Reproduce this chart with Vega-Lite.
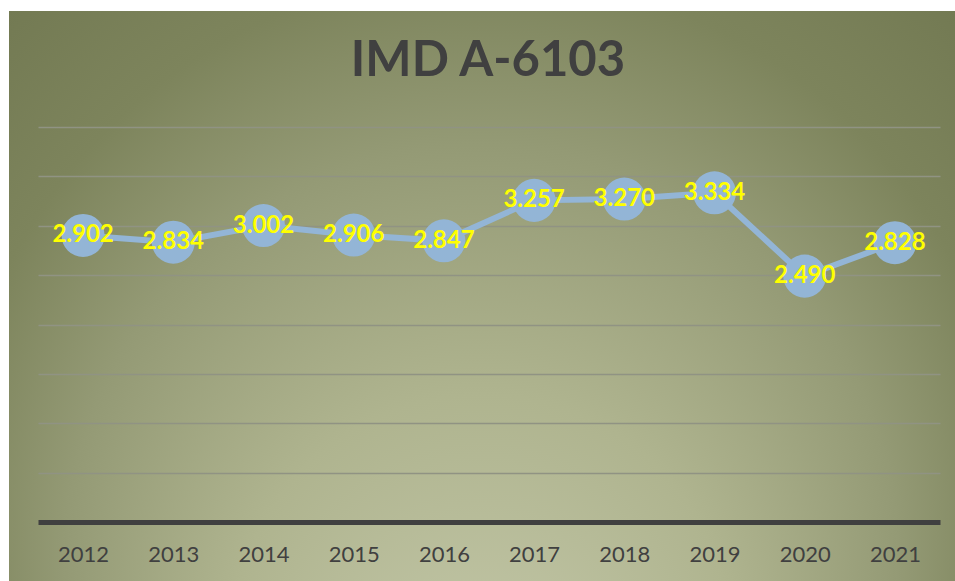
{
  "$schema": "https://vega.github.io/schema/vega-lite/v6.json",
  "autosize": {"type": "none"},
  "padding": {"left": 9, "top": 11, "right": 0, "bottom": 0},
  "width": 946,
  "height": 570,
  "background": "#ffffff",
  "title": {
    "text": "IMD A-6103",
    "orient": "top",
    "anchor": "middle",
    "frame": "group",
    "offset": -68,
    "dy": 46,
    "baseline": "alphabetic",
    "dx": 6,
    "font": "Lato",
    "fontSize": 49,
    "fontWeight": "bold",
    "color": "#404040"
  },
  "data": {
    "values": [
      {"year": "2012", "value": 2.902},
      {"year": "2013", "value": 2.834},
      {"year": "2014", "value": 3.002},
      {"year": "2015", "value": 2.906},
      {"year": "2016", "value": 2.847},
      {"year": "2017", "value": 3.257},
      {"year": "2018", "value": 3.270},
      {"year": "2019", "value": 3.334},
      {"year": "2020", "value": 2.490},
      {"year": "2021", "value": 2.828}
    ]
  },
  "encoding": {
    "x": {
      "field": "year",
      "type": "ordinal",
      "scale": {"type": "point", "padding": 0.5, "range": [29, 931]},
      "axis": {
        "title": null,
        "labelAngle": 0,
        "ticks": false,
        "offset": -59,
        "domainColor": "#404040",
        "domainWidth": 5,
        "labelColor": "#404040",
        "labelFont": "Lato",
        "labelFontSize": 22,
        "labelPadding": 32,
        "labelBaseline": "middle",
        "grid": false
      }
    },
    "y": {
      "field": "value",
      "type": "quantitative",
      "scale": {"domain": [0, 4], "range": [511, 116], "nice": false, "zero": true},
      "axis": {
        "title": null,
        "labels": false,
        "ticks": false,
        "domain": false,
        "grid": true,
        "values": [0.5, 1, 1.5, 2, 2.5, 3, 3.5, 4],
        "gridColor": "#909383",
        "gridWidth": 1.5
      }
    }
  },
  "layer": [
    {
      "mark": {"type": "line", "color": "#93b5d6", "strokeWidth": 6}
    },
    {
      "mark": {"type": "circle", "color": "#93b5d6", "size": 1850, "opacity": 1}
    },
    {
      "mark": {
        "type": "text",
        "color": "#ffff00",
        "font": "Lato",
        "fontSize": 24,
        "fontWeight": "bold",
        "align": "center",
        "baseline": "middle"
      },
      "encoding": {
        "text": {"field": "value", "type": "quantitative", "format": ".3f"}
      }
    }
  ],
  "config": {
    "view": {
      "stroke": null,
      "fill": {
        "gradient": "radial",
        "x1": 0.5, "y1": 1.0, "r1": 0,
        "x2": 0.5, "y2": 0.6, "r2": 0.8,
        "stops": [
          {"offset": 0, "color": "#c8ccae"},
          {"offset": 0.33, "color": "#afb48f"},
          {"offset": 0.55, "color": "#949a75"},
          {"offset": 0.7, "color": "#7d845c"},
          {"offset": 0.85, "color": "#737a53"},
          {"offset": 1, "color": "#687048"}
        ]
      }
    }
  }
}
